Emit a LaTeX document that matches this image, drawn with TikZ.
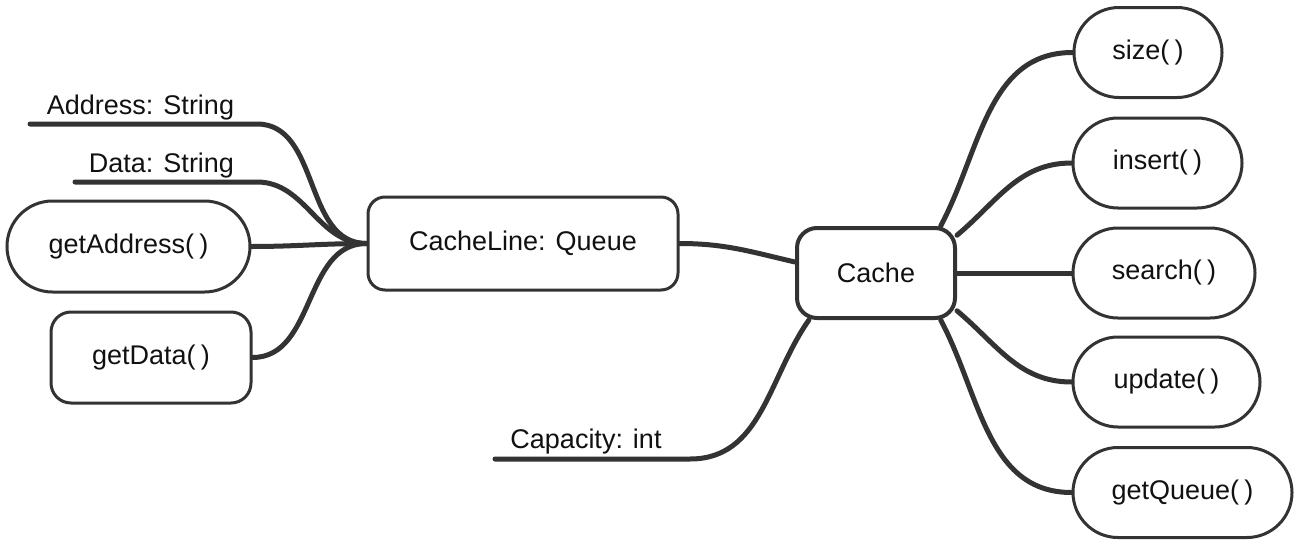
\documentclass[tikz,border=0pt]{standalone}
\usepackage{fontspec}
\setmainfont{Liberation Sans}
\usetikzlibrary{shapes.misc}
\definecolor{ink}{HTML}{333333}
\definecolor{txt}{HTML}{111111}
\newcommand{\pp}{(\kern0.2em)}
\begin{document}
\begin{tikzpicture}[x=1pt,y=-1pt,
  txtfont/.style={font=\fontsize{27}{32}\selectfont, text=txt},
  box/.style={draw=ink, line width=3pt, rounded corners=20pt, fill=white, inner sep=0pt, txtfont},
  pill/.style={rounded rectangle, draw=ink, line width=3pt, fill=white, inner sep=0pt, minimum height=90pt, txtfont},
  conn/.style={draw=ink, line width=5pt, line cap=round},
  lbl/.style={inner sep=0pt, anchor=base, txtfont}
]
\useasboundingbox (0,0) rectangle (1306,546);

% main nodes
\node[box, minimum width=310pt, minimum height=93pt, rounded corners=17pt] (cl) at (523,243.5) {CacheLine: Queue};
\node[box, line width=4pt, minimum width=158pt, minimum height=90pt] (cache) at (876,273) {Cache};

% left leaves
\node[pill, minimum width=243pt, minimum height=91pt] (getaddr) at (128.5,246.5) {getAddress\pp};
\node[box, minimum width=200pt, minimum height=91pt] (getdata) at (151,357.5) {getData\pp};
\node[lbl] (addrtxt) at (140.5,114) {Address: String};
\node[lbl] (datatxt) at (161.5,172) {Data: String};
\node[lbl] (captxt) at (586,448) {Capacity: int};
\coordinate (addrL) at (30,124);
\coordinate (addrR) at (257,124);
\coordinate (dataL) at (75,182);
\coordinate (dataR) at (257,182);
\coordinate (capL) at (495,459);
\coordinate (capR) at (690,459);

% right leaves
\node[pill, minimum width=148pt] (size) at (1148,52.5) {size\pp};
\node[pill, minimum width=169pt] (insert) at (1157.5,163) {insert\pp};
\node[pill, minimum width=182pt] (search) at (1164,273) {search\pp};
\node[pill, minimum width=187pt] (update) at (1166.5,382) {update\pp};
\node[pill, minimum width=219pt] (getq) at (1182.5,492.5) {getQueue\pp};

% connectors left
\draw[conn] (addrL) -- (addrR) to[out=0,in=180] (cl.west);
\draw[conn] (dataL) -- (dataR) to[out=0,in=180] (cl.west);
\draw[conn] (getaddr.east) to[out=0,in=180] (cl.west);
\draw[conn] (getdata.east) to[out=0,in=180] (cl.west);

% center link
\draw[conn] (cl.east) to[out=0,in=167] ([yshift=11pt]cache.west);
\draw[conn] (capL) -- (capR) to[out=0,in=235] (cache.-145);

% connectors right
\draw[conn] (cache.36) to[out=62,in=180] (size.west);
\draw[conn] (cache.25) to[out=40,in=180] (insert.west);
\draw[conn] (cache.east) -- (search.west);
\draw[conn] (cache.-25) to[out=-40,in=180] (update.west);
\draw[conn] (cache.-36) to[out=-62,in=180] (getq.west);
\end{tikzpicture}
\end{document}
